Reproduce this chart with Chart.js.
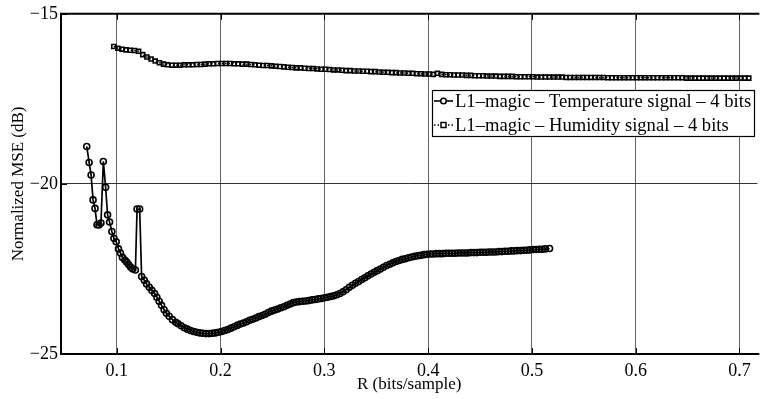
<!DOCTYPE html>
<html>
<head>
<meta charset="utf-8">
<script src="https://cdn.jsdelivr.net/npm/chart.js@4.4.1/dist/chart.umd.min.js"></script>
<style>
    html, body { margin: 0; padding: 0; background: #ffffff; }
    #mseChart { display: block; }
</style>
</head>
<body>
<canvas id="mseChart" width="763" height="399"></canvas>
<script>
// Rate (bits/sample) and normalized MSE (dB), temperature signal
const tempRate = [
    0.0710, 0.0733, 0.0752, 0.0771, 0.0790, 0.0809, 0.0828, 0.0847, 0.0870, 0.0892,
    0.0911, 0.0930, 0.0952, 0.0972, 0.0994, 0.1016, 0.1035, 0.1054, 0.1077, 0.1096,
    0.1115, 0.1134, 0.1153, 0.1179, 0.1195, 0.1220, 0.1239, 0.1265, 0.1287, 0.1313,
    0.1338, 0.1364, 0.1386, 0.1408, 0.1431, 0.1456, 0.1478, 0.1504, 0.1536, 0.1568,
    0.159, 0.162, 0.165, 0.168, 0.171, 0.174, 0.177, 0.180, 0.183, 0.186,
    0.189, 0.192, 0.195, 0.198, 0.201, 0.204, 0.207, 0.210, 0.213, 0.216,
    0.219, 0.222, 0.225, 0.228, 0.231, 0.234, 0.237, 0.240, 0.243, 0.246,
    0.249, 0.252, 0.255, 0.258, 0.261, 0.264, 0.267, 0.270, 0.273, 0.276,
    0.279, 0.282, 0.285, 0.288, 0.291, 0.294, 0.297, 0.300, 0.303, 0.306,
    0.309, 0.312, 0.315, 0.318, 0.321, 0.324, 0.327, 0.330, 0.333, 0.336,
    0.339, 0.342, 0.345, 0.348, 0.351, 0.354, 0.357, 0.360, 0.363, 0.366,
    0.369, 0.372, 0.375, 0.378, 0.381, 0.384, 0.387, 0.390, 0.393, 0.396,
    0.399, 0.402, 0.405, 0.408, 0.411, 0.414, 0.417, 0.420, 0.423, 0.426,
    0.429, 0.432, 0.435, 0.438, 0.441, 0.444, 0.447, 0.450, 0.453, 0.456,
    0.459, 0.462, 0.465, 0.468, 0.471, 0.474, 0.477, 0.480, 0.483, 0.486,
    0.489, 0.492, 0.495, 0.498, 0.501, 0.504, 0.507, 0.510, 0.513, 0.517
];
const tempMse = [
    -18.90, -19.37, -19.74, -20.47, -20.72, -21.20, -21.21, -21.15, -19.34, -20.10,
    -20.91, -21.12, -21.40, -21.60, -21.70, -21.91, -22.03, -22.16, -22.24, -22.30,
    -22.38, -22.45, -22.50, -22.53, -20.74, -20.74, -22.72, -22.83, -22.94, -23.04,
    -23.13, -23.22, -23.33, -23.45, -23.57, -23.70, -23.80, -23.89, -23.99, -24.07,
    -24.11, -24.17, -24.23, -24.27, -24.31, -24.34, -24.36, -24.38, -24.39, -24.40,
    -24.40, -24.39, -24.38, -24.36, -24.34, -24.31, -24.28, -24.24, -24.20, -24.16,
    -24.12, -24.09, -24.05, -24.01, -23.98, -23.94, -23.90, -23.87, -23.83, -23.78,
    -23.74, -23.71, -23.68, -23.64, -23.61, -23.57, -23.53, -23.49, -23.47, -23.46,
    -23.45, -23.44, -23.43, -23.41, -23.40, -23.38, -23.37, -23.35, -23.33, -23.31,
    -23.29, -23.26, -23.22, -23.17, -23.11, -23.04, -22.98, -22.92, -22.87, -22.81,
    -22.76, -22.70, -22.65, -22.60, -22.55, -22.50, -22.45, -22.40, -22.36, -22.32,
    -22.28, -22.25, -22.22, -22.20, -22.17, -22.15, -22.13, -22.11, -22.10, -22.08,
    -22.07, -22.06, -22.06, -22.05, -22.05, -22.05, -22.04, -22.04, -22.04, -22.04,
    -22.03, -22.03, -22.03, -22.03, -22.02, -22.02, -22.02, -22.01, -22.01, -22.01,
    -22.00, -22.00, -22.00, -21.99, -21.99, -21.98, -21.98, -21.97, -21.97, -21.96,
    -21.96, -21.95, -21.95, -21.94, -21.93, -21.93, -21.92, -21.92, -21.91, -21.90
];

// Rate (bits/sample) and normalized MSE (dB), humidity signal
const humRate = [
    0.097, 0.101, 0.105, 0.109, 0.113, 0.117, 0.121, 0.125, 0.129, 0.133,
    0.137, 0.141, 0.145, 0.149, 0.153, 0.157, 0.161, 0.165, 0.169, 0.173,
    0.177, 0.181, 0.185, 0.189, 0.193, 0.197, 0.201, 0.205, 0.209, 0.213,
    0.217, 0.221, 0.225, 0.229, 0.233, 0.237, 0.241, 0.245, 0.249, 0.253,
    0.257, 0.261, 0.265, 0.269, 0.273, 0.277, 0.281, 0.285, 0.289, 0.293,
    0.297, 0.301, 0.305, 0.309, 0.313, 0.317, 0.321, 0.325, 0.329, 0.333,
    0.337, 0.341, 0.345, 0.349, 0.353, 0.357, 0.361, 0.365, 0.369, 0.373,
    0.377, 0.381, 0.385, 0.389, 0.393, 0.397, 0.401, 0.405, 0.409, 0.413,
    0.417, 0.421, 0.425, 0.429, 0.433, 0.437, 0.441, 0.445, 0.449, 0.453,
    0.457, 0.461, 0.465, 0.469, 0.473, 0.477, 0.481, 0.485, 0.489, 0.493,
    0.497, 0.501, 0.505, 0.509, 0.513, 0.517, 0.521, 0.525, 0.529, 0.533,
    0.537, 0.541, 0.545, 0.549, 0.553, 0.557, 0.561, 0.565, 0.569, 0.573,
    0.577, 0.581, 0.585, 0.589, 0.593, 0.597, 0.601, 0.605, 0.609, 0.613,
    0.617, 0.621, 0.625, 0.629, 0.633, 0.637, 0.641, 0.645, 0.649, 0.653,
    0.657, 0.661, 0.665, 0.669, 0.673, 0.677, 0.681, 0.685, 0.689, 0.693,
    0.697, 0.701, 0.705, 0.709
];
const humMse = [
    -15.96, -16.01, -16.04, -16.06, -16.07, -16.08, -16.10, -16.20, -16.27, -16.33,
    -16.39, -16.44, -16.48, -16.50, -16.51, -16.51, -16.51, -16.50, -16.50, -16.50,
    -16.49, -16.49, -16.48, -16.47, -16.47, -16.46, -16.46, -16.46, -16.46, -16.47,
    -16.47, -16.48, -16.48, -16.49, -16.50, -16.51, -16.52, -16.52, -16.53, -16.54,
    -16.55, -16.56, -16.57, -16.58, -16.59, -16.59, -16.60, -16.61, -16.61, -16.62,
    -16.63, -16.63, -16.64, -16.65, -16.65, -16.66, -16.67, -16.67, -16.68, -16.68,
    -16.69, -16.69, -16.70, -16.70, -16.71, -16.72, -16.72, -16.73, -16.73, -16.74,
    -16.74, -16.75, -16.75, -16.76, -16.76, -16.77, -16.77, -16.78, -16.75, -16.78,
    -16.79, -16.79, -16.80, -16.80, -16.80, -16.81, -16.81, -16.82, -16.82, -16.82,
    -16.83, -16.83, -16.83, -16.84, -16.84, -16.84, -16.84, -16.85, -16.85, -16.85,
    -16.85, -16.85, -16.86, -16.86, -16.86, -16.86, -16.86, -16.86, -16.86, -16.87,
    -16.87, -16.87, -16.87, -16.87, -16.87, -16.87, -16.87, -16.87, -16.87, -16.88,
    -16.88, -16.88, -16.88, -16.88, -16.88, -16.88, -16.88, -16.88, -16.88, -16.88,
    -16.88, -16.88, -16.88, -16.88, -16.88, -16.88, -16.88, -16.88, -16.89, -16.89,
    -16.89, -16.89, -16.89, -16.89, -16.89, -16.89, -16.89, -16.89, -16.89, -16.89,
    -16.89, -16.89, -16.89, -16.89
];

const xTicks = [0.1, 0.2, 0.3, 0.4, 0.5, 0.6, 0.7];
const yTicks = [-25, -20, -15];
const seriesLabels = [
    'L1–magic – Temperature signal – 4 bits',
    'L1–magic – Humidity signal – 4 bits'
];

const FONT = "'Liberation Serif', 'Times New Roman', serif";
Chart.defaults.font.family = FONT;
Chart.defaults.color = '#000000';

function toPoints(xs, ys) {
    return xs.map((x, i) => ({ x: x, y: ys[i] }));
}

// Box, inward tick marks and the legend, drawn over the plot
const frame = {
    id: 'frame',
    afterDraw(chart) {
        const ctx = chart.ctx;
        const a = chart.chartArea;
        const xs = chart.scales.x;
        const ys = chart.scales.y;
        ctx.save();

        ctx.strokeStyle = '#000000';
        ctx.lineWidth = 1;
        ctx.beginPath();
        xTicks.forEach(v => {
            const px = Math.round(xs.getPixelForValue(v)) + 0.5;
            ctx.moveTo(px, a.bottom);
            ctx.lineTo(px, a.bottom - 6);
            ctx.moveTo(px, a.top);
            ctx.lineTo(px, a.top + 6);
        });
        yTicks.forEach(v => {
            const py = Math.round(ys.getPixelForValue(v)) + 0.5;
            ctx.moveTo(a.left, py);
            ctx.lineTo(a.left + 6, py);
        });
        ctx.stroke();

        ctx.lineWidth = 2;
        ctx.beginPath();
        ctx.moveTo(a.right + 2, a.top);
        ctx.lineTo(a.left, a.top);
        ctx.lineTo(a.left, a.bottom);
        ctx.lineTo(a.right + 2, a.bottom);
        ctx.stroke();

        // legend
        const lx = 432, ly = 90, lw = 322, lh = 47;
        ctx.fillStyle = '#ffffff';
        ctx.fillRect(lx, ly, lw, lh);
        ctx.lineWidth = 1.2;
        ctx.strokeRect(lx + 0.5, ly + 0.5, lw, lh - 1);

        const rows = [ly + 11, ly + 35];
        ctx.font = '18.6px ' + FONT;
        ctx.textBaseline = 'middle';
        ctx.textAlign = 'left';
        ctx.fillStyle = '#000000';

        // temperature entry
        ctx.lineWidth = 1.6;
        ctx.setLineDash([]);
        ctx.beginPath();
        ctx.moveTo(lx + 2, rows[0]);
        ctx.lineTo(lx + 21, rows[0]);
        ctx.stroke();
        ctx.lineWidth = 1.5;
        ctx.beginPath();
        ctx.arc(lx + 11.5, rows[0], 2.8, 0, Math.PI * 2);
        ctx.fillStyle = '#ffffff';
        ctx.fill();
        ctx.stroke();
        ctx.fillStyle = '#000000';
        ctx.fillText(seriesLabels[0], lx + 23, rows[0] + 1);

        // humidity entry
        ctx.lineWidth = 1.4;
        ctx.setLineDash([1.5, 2]);
        ctx.beginPath();
        ctx.moveTo(lx + 2, rows[1]);
        ctx.lineTo(lx + 21, rows[1]);
        ctx.stroke();
        ctx.setLineDash([]);
        ctx.lineWidth = 1.5;
        ctx.fillStyle = '#ffffff';
        ctx.fillRect(lx + 9, rows[1] - 2.5, 5, 5);
        ctx.strokeRect(lx + 9, rows[1] - 2.5, 5, 5);
        ctx.fillStyle = '#000000';
        ctx.fillText(seriesLabels[1], lx + 23, rows[1] + 1);

        ctx.restore();
    }
};

const mseChart = new Chart(document.getElementById('mseChart').getContext('2d'), {
    type: 'scatter',
    data: {
        datasets: [{
            label: seriesLabels[0],
            data: toPoints(tempRate, tempMse),
            showLine: true,
            borderColor: '#000000',
            borderWidth: 1.7,
            pointStyle: 'circle',
            pointRadius: 3,
            pointBorderWidth: 1.6,
            pointBorderColor: '#000000',
            pointBackgroundColor: 'rgba(255, 255, 255, 0)'
        }, {
            label: seriesLabels[1],
            data: toPoints(humRate, humMse),
            showLine: true,
            borderColor: '#000000',
            borderWidth: 1.5,
            borderDash: [1.5, 2],
            pointStyle: 'rect',
            pointRadius: 2.8,
            pointBorderWidth: 1.6,
            pointBorderColor: '#000000',
            pointBackgroundColor: 'rgba(255, 255, 255, 0)'
        }]
    },
    options: {
        responsive: false,
        animation: false,
        devicePixelRatio: 1,
        layout: { padding: { top: 11, right: 0, left: 0, bottom: 0 } },
        plugins: {
            legend: { display: false },
            tooltip: { enabled: false }
        },
        scales: {
            x: {
                type: 'linear',
                min: 0.0462,
                max: 0.7173,
                afterBuildTicks: scale => { scale.ticks = xTicks.map(v => ({ value: v })); },
                afterFit: scale => { scale.height = 45; },
                border: { display: false },
                grid: { color: '#666666', lineWidth: 1, drawTicks: false },
                ticks: {
                    padding: 6,
                    maxRotation: 0,
                    font: { size: 18 },
                    color: '#000000',
                    callback: v => v.toFixed(1)
                },
                title: {
                    display: true,
                    text: 'R (bits/sample)',
                    font: { size: 17 },
                    color: '#000000',
                    padding: { top: 0, bottom: 4 }
                }
            },
            y: {
                min: -25,
                max: -15,
                afterBuildTicks: scale => { scale.ticks = yTicks.map(v => ({ value: v })); },
                afterFit: scale => { scale.width = 61; },
                border: { display: false },
                grid: { color: '#333333', lineWidth: 1, drawTicks: false },
                ticks: {
                    padding: 3,
                    font: { size: 18 },
                    color: '#000000',
                    callback: v => String(v).replace('-', '−')
                },
                title: {
                    display: true,
                    text: 'Normalized MSE (dB)',
                    font: { size: 17 },
                    color: '#000000',
                    padding: { top: 8, bottom: 0 }
                }
            }
        }
    },
    plugins: [frame]
});
</script>
</body>
</html>
